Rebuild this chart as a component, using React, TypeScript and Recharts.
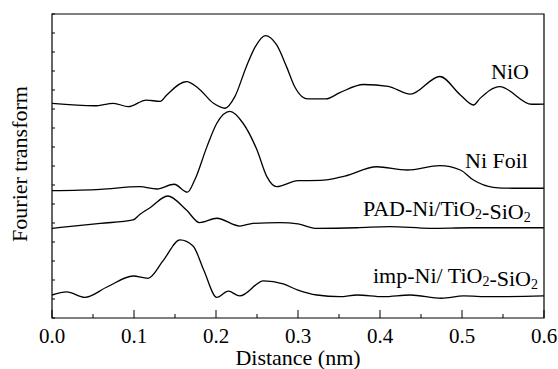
import React from 'react'
import { LineChart, Line, XAxis, YAxis, ReferenceArea, Customized } from 'recharts'

const FONT = 'Liberation Serif, Times New Roman, serif'

// axis ticks (distance in nm, arbitrary FT units stacked)
const distTicks = [0, 0.05, 0.1, 0.15, 0.2, 0.25, 0.3, 0.35, 0.4, 0.45, 0.5, 0.55, 0.6]
const ampTicks = [0, 1, 2, 3, 4, 5, 6, 7, 8, 9, 10, 11, 12, 13, 14, 15, 16]

// NiO
const nioDist = [0, 0.052, 0.075, 0.093, 0.115, 0.132, 0.14, 0.164, 0.178, 0.197, 0.211, 0.223, 0.237, 0.248, 0.26, 0.274, 0.286, 0.296, 0.305, 0.312, 0.334, 0.351, 0.38, 0.41, 0.437, 0.473, 0.498, 0.514, 0.522, 0.546, 0.585, 0.6]
const nioAmp = [11.3, 11.17, 11.3, 11.12, 11.47, 11.4, 11.74, 12.44, 12.11, 11.3, 11.04, 11.65, 13.23, 14.28, 14.86, 14.37, 13.23, 12.17, 11.65, 11.53, 11.53, 11.86, 12.29, 12.19, 11.78, 12.71, 11.74, 11.21, 11.56, 12.18, 11.25, 11.26]

// Ni foil
const foilDist = [0, 0.059, 0.107, 0.128, 0.149, 0.165, 0.174, 0.189, 0.201, 0.217, 0.233, 0.25, 0.262, 0.274, 0.3, 0.327, 0.357, 0.396, 0.433, 0.473, 0.498, 0.514, 0.538, 0.562, 0.6]
const foilAmp = [6.7, 6.77, 6.91, 6.79, 7.04, 6.62, 7.26, 9.02, 10.25, 10.87, 10.25, 8.84, 7.44, 6.91, 7.23, 7.24, 7.47, 7.96, 7.79, 8.02, 7.79, 7.26, 6.88, 6.83, 6.83]

// PAD-Ni/TiO2-SiO2
const padDist = [0, 0.059, 0.099, 0.107, 0.12, 0.141, 0.164, 0.18, 0.201, 0.229, 0.245, 0.278, 0.3, 0.323, 0.372, 0.412, 0.461, 0.51, 0.6]
const padAmp = [4.72, 4.98, 5.16, 5.45, 5.82, 6.42, 5.68, 5.02, 5.25, 4.84, 4.98, 5.02, 4.95, 4.72, 4.75, 4.81, 4.72, 4.75, 4.75]

// imp-Ni/TiO2-SiO2
const impDist = [0, 0.018, 0.04, 0.067, 0.099, 0.117, 0.136, 0.156, 0.172, 0.185, 0.201, 0.215, 0.229, 0.258, 0.282, 0.3, 0.323, 0.351, 0.372, 0.404, 0.437, 0.475, 0.502, 0.534, 0.6]
const impAmp = [1.21, 1.38, 1.09, 1.63, 2.21, 2.09, 3.05, 4.11, 3.79, 2.53, 1.09, 1.41, 1.16, 1.95, 1.79, 1.47, 1.21, 1.12, 1.21, 1.12, 1.21, 1.04, 1.16, 1.12, 1.16]

const toRows = (dist: number[], amp: number[]) => dist.map((d, i) => ({ d, v: amp[i] }))

const series = [
  { key: 'nio', rows: toRows(nioDist, nioAmp) },
  { key: 'foil', rows: toRows(foilDist, foilAmp) },
  { key: 'pad', rows: toRows(padDist, padAmp) },
  { key: 'imp', rows: toRows(impDist, impAmp) },
]

const textStyle = { fontFamily: FONT, fill: '#000' }

// inward ticks on the distance axis, labels on the major ones only
const DistTick = (props: any) => {
  const { x, y, payload } = props
  const major = Math.round(payload.value * 100) % 10 === 0
  return (
    <g>
      <line x1={x} y1={y} x2={x} y2={y - (major ? 8 : 4)} stroke="#000" strokeWidth={1} />
      {major && (
        <text x={x} y={y + 25} textAnchor="middle" style={{ ...textStyle, fontSize: 21 }}>
          {payload.value.toFixed(1)}
        </text>
      )}
    </g>
  )
}

const AmpTick = (props: any) => {
  const { x, y } = props
  return <line x1={x} y1={y} x2={x + 3} y2={y} stroke="#000" strokeWidth={1} />
}

const Sub = ({ children }: { children: string }) => (
  <>
    <tspan dy={3} style={{ fontSize: 14 }}>{children}</tspan>
    <tspan dy={-3}>{''}</tspan>
  </>
)

const Annotations = () => (
  <g style={{ ...textStyle, fontSize: 22 }}>
    <text x={491} y={79}>NiO</text>
    <text x={465} y={168}>Ni Foil</text>
    <text x={363} y={216}>
      PAD-Ni/TiO<Sub>2</Sub>-SiO<Sub>2</Sub>
    </text>
    <text x={373} y={283}>
      imp-Ni/ TiO<Sub>2</Sub>-SiO<Sub>2</Sub>
    </text>
    <text x={298} y={365} textAnchor="middle">Distance (nm)</text>
    <text transform="translate(27,164) rotate(-90)" textAnchor="middle">Fourier transform</text>
  </g>
)

export default function App() {
  return (
    <div style={{ position: 'absolute', left: 0, top: 0, background: '#fff' }}>
      <LineChart width={558} height={369} margin={{ top: 14, right: 14, left: 0, bottom: 0 }}>
        <XAxis
          type="number"
          dataKey="d"
          domain={[0, 0.6]}
          ticks={distTicks}
          interval={0}
          tickSize={0}
          tickMargin={0}
          axisLine={false}
          tick={<DistTick />}
          height={51}
          allowDataOverflow
        />
        <YAxis
          type="number"
          domain={[0, 16]}
          ticks={ampTicks}
          interval={0}
          tickSize={0}
          tickMargin={0}
          axisLine={false}
          tick={<AmpTick />}
          width={52}
          allowDataOverflow
        />
        <ReferenceArea x1={0} x2={0.6} y1={0} y2={16} fill="none" stroke="#000" strokeWidth={1.2} />
        {series.map((s) => (
          <Line
            key={s.key}
            data={s.rows}
            dataKey="v"
            type="monotone"
            stroke="#000"
            strokeWidth={1.3}
            dot={false}
            activeDot={false}
            isAnimationActive={false}
          />
        ))}
        <Customized component={Annotations} />
      </LineChart>
    </div>
  )
}
